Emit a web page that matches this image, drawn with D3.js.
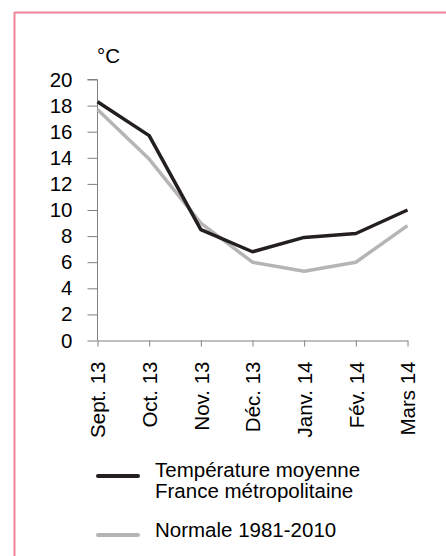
<!DOCTYPE html>
<html><head><meta charset="utf-8">
<script src="https://cdn.jsdelivr.net/npm/d3@7"></script>
<style>
html,body{margin:0;padding:0;background:#fff;}
svg text{font-family:"Liberation Sans",Arial,sans-serif;fill:#000;}
</style></head>
<body>
<svg id="c" width="446" height="556"></svg>
<script>
const months = ["Sept. 13","Oct. 13","Nov. 13","Déc. 13","Janv. 14","Fév. 14","Mars 14"];
const tempMoyenne = [18.3, 15.7, 8.5, 6.8, 7.9, 8.2, 10.0];
const normale = [17.7, 13.9, 9.0, 6.0, 5.3, 6.0, 8.8];
const yTicks = [0,2,4,6,8,10,12,14,16,18,20];
const unitLabel = "°C";
const legendLabels = [["Température moyenne","France métropolitaine"],["Normale 1981-2010"]];

const FS = 20.5;
const svg = d3.select("#c");
// frame
svg.append("line").attr("x1",14.5).attr("x2",14.5).attr("y1",12).attr("y2",556)
  .attr("stroke","#f2849a").attr("stroke-width",2);
svg.append("line").attr("x1",14).attr("x2",446).attr("y1",12.5).attr("y2",12.5)
  .attr("stroke","#f2849a").attr("stroke-width",2);

const x = d3.scalePoint().domain(months).range([97.5,407.5]);
const y = d3.scaleLinear().domain([0,20]).range([340.5,79.5]);

const yAxis = svg.append("g").attr("transform","translate(97.5,0)")
  .call(d3.axisLeft(y).tickValues(yTicks).tickSize(10).tickPadding(15).tickFormat(d3.format("d")));
yAxis.select(".domain").attr("stroke","#808080").attr("d",`M-10,${y(20)}H0V${y(0)}`);
yAxis.selectAll(".tick line").attr("stroke","#808080");
yAxis.selectAll("text").attr("font-size",FS).attr("fill","#000");

const xAxis = svg.append("g").attr("transform",`translate(0,${y(0)})`)
  .call(d3.axisBottom(x).tickSize(6).tickSizeOuter(0));
xAxis.select(".domain").attr("stroke","#808080");
xAxis.selectAll(".tick line").attr("stroke","#808080");
xAxis.selectAll("text").attr("font-size",FS).attr("fill","#000")
  .attr("text-anchor","end").attr("transform","rotate(-90)")
  .attr("x",-21).attr("y",0).attr("dy","0.35em");

svg.append("text").attr("x",97).attr("y",63).attr("font-size",FS).text(unitLabel);

const line = d3.line().x((d,i)=>x(months[i])).y(d=>y(d));
svg.append("path").datum(normale).attr("d",line).attr("fill","none")
  .attr("stroke","#b5b5b7").attr("stroke-width",3.5).attr("stroke-linejoin","round");
svg.append("path").datum(tempMoyenne).attr("d",line).attr("fill","none")
  .attr("stroke","#231f20").attr("stroke-width",3.5).attr("stroke-linejoin","round");

// legend
const lg = svg.append("g");
lg.append("line").attr("x1",98).attr("x2",138).attr("y1",476).attr("y2",476)
  .attr("stroke","#231f20").attr("stroke-width",4).attr("stroke-linecap","round");
lg.append("line").attr("x1",98).attr("x2",138).attr("y1",535).attr("y2",535)
  .attr("stroke","#b5b5b7").attr("stroke-width",4).attr("stroke-linecap","round");
const t1 = lg.append("text").attr("x",155).attr("y",477).attr("font-size",FS);
legendLabels[0].forEach((s,i)=>t1.append("tspan").attr("x",155).attr("dy",i?21:0).text(s));
lg.append("text").attr("x",155).attr("y",537).attr("font-size",FS).text(legendLabels[1][0]);
</script>
</body></html>
